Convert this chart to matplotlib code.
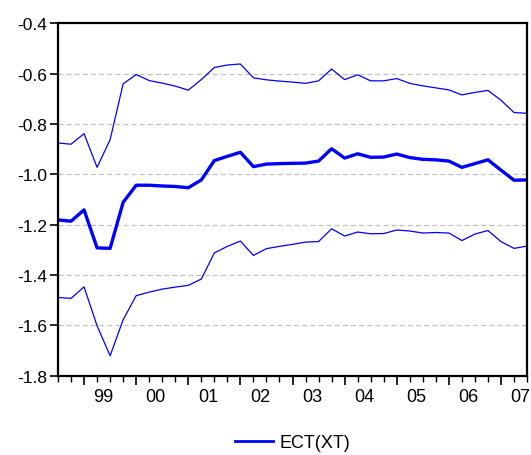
import matplotlib.pyplot as plt
import numpy as np

plt.rcParams['font.family'] = ['Liberation Sans', 'DejaVu Sans']

# quarterly observations, 1998Q3 .. 2007Q3
years = ['99', '00', '01', '02', '03', '04', '05', '06', '07']

coef = [-1.181, -1.186, -1.141, -1.292, -1.294, -1.111, -1.043, -1.043, -1.046, -1.048,
        -1.053, -1.022, -0.945, -0.928, -0.912, -0.969, -0.959, -0.957, -0.956, -0.955,
        -0.947, -0.898, -0.935, -0.918, -0.932, -0.931, -0.919, -0.933, -0.940, -0.942,
        -0.947, -0.972, -0.957, -0.942, -0.983, -1.023, -1.022]
upper = [-0.875, -0.880, -0.838, -0.972, -0.862, -0.640, -0.603, -0.627, -0.637, -0.649,
         -0.665, -0.623, -0.575, -0.565, -0.561, -0.616, -0.624, -0.629, -0.633, -0.638,
         -0.628, -0.581, -0.623, -0.604, -0.628, -0.628, -0.619, -0.638, -0.648, -0.656,
         -0.664, -0.684, -0.674, -0.666, -0.705, -0.754, -0.757]
lower = [-1.489, -1.493, -1.447, -1.602, -1.721, -1.578, -1.482, -1.468, -1.456, -1.448,
         -1.441, -1.416, -1.312, -1.286, -1.265, -1.322, -1.295, -1.286, -1.278, -1.269,
         -1.267, -1.216, -1.245, -1.229, -1.236, -1.235, -1.221, -1.225, -1.233, -1.231,
         -1.233, -1.263, -1.237, -1.223, -1.267, -1.294, -1.285]

x = np.arange(len(coef))

fig = plt.figure(figsize=(5.31, 4.56), dpi=100)
ax = fig.add_axes([0.1092, 0.174, 0.8833, 0.7723])

for yv in np.arange(-1.6, -0.5, 0.2):
    ax.axhline(yv, color='#c0c0c0', linestyle=(0, (4, 2.5)), linewidth=0.9, zorder=0)

ax.plot(x, upper, color='#0000ff', linewidth=0.9)
ax.plot(x, lower, color='#0000ff', linewidth=0.9)
line, = ax.plot(x, coef, color='#0000ff', linewidth=2.4)

ax.set_xlim(0, 36)
ax.set_ylim(-1.8, -0.4)
yt = np.round(np.arange(-1.8, -0.39, 0.2), 1)
ax.set_yticks(yt)
ax.set_yticklabels([f'{v:.1f}' for v in yt])

# year starts (Q1) are major ticks, every quarter a minor one
major = [2 + 4 * i for i in range(len(years))]
ax.set_xticks(major)
ax.set_xticklabels([''] * len(major))
ax.set_xticks(x, minor=True)
for i, lab in enumerate(years):
    ax.annotate(lab, xy=(major[i] + 1.5, 0), xycoords=('data', 'axes fraction'),
                xytext=(0, -9), textcoords='offset points',
                ha='center', va='top', fontsize=13)

ax.tick_params(axis='x', which='major', direction='out', length=6.5, width=1.2)
ax.tick_params(axis='x', which='minor', direction='out', length=4.5, width=1)
ax.tick_params(axis='y', direction='out', length=6, width=1.2, labelsize=12.5, pad=2)
for s in ax.spines.values():
    s.set_linewidth(1.6)

leg = fig.legend([line], ['ECT(XT)'], loc='center', bbox_to_anchor=(0.551, 1 - 444 / 456),
                 frameon=False, fontsize=13, handlelength=2.1, handletextpad=0.4)
leg.get_lines()[0].set_linewidth(2)

fig.savefig('out.png', dpi=100)
